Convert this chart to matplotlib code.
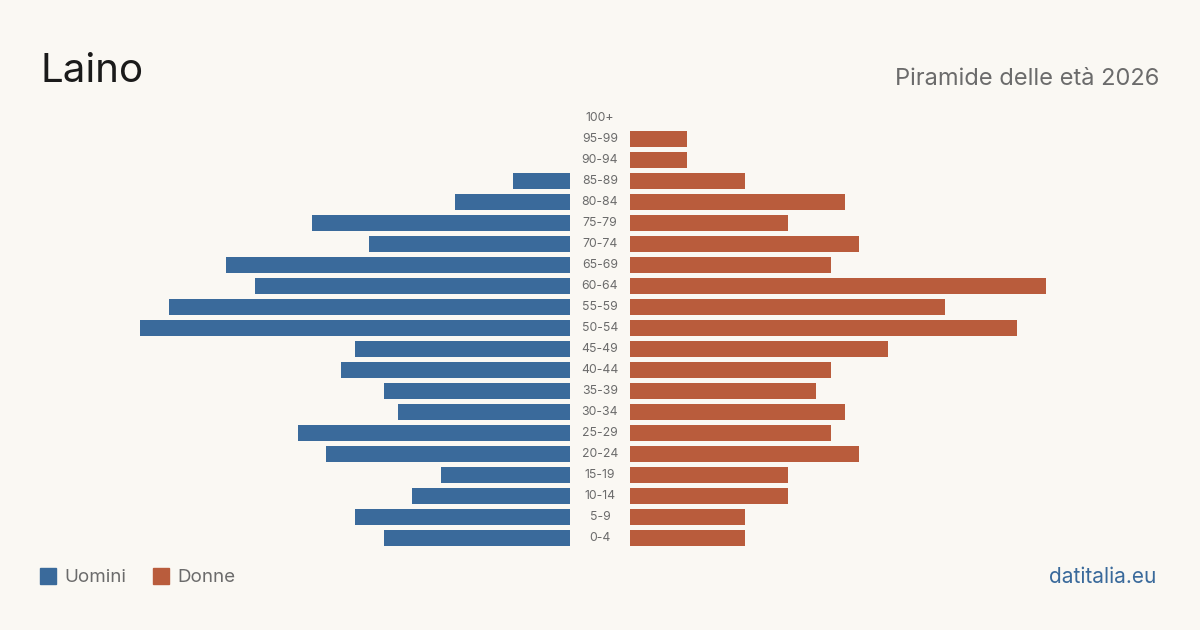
import numpy as np
import matplotlib.pyplot as plt
from matplotlib.patches import Rectangle

plt.rcParams['font.family'] = ['Inter', 'DejaVu Sans']

classi = ['100+', '95-99', '90-94', '85-89', '80-84', '75-79', '70-74', '65-69',
          '60-64', '55-59', '50-54', '45-49', '40-44', '35-39', '30-34', '25-29',
          '20-24', '15-19', '10-14', '5-9', '0-4']
uomini = [0, 0, 0, 4, 8, 18, 14, 24, 22, 28, 30, 15, 16, 13, 12, 19, 17, 9, 11, 15, 13]
donne = [0, 4, 4, 8, 15, 11, 16, 14, 29, 22, 27, 18, 14, 13, 15, 14, 16, 11, 11, 8, 8]

BG = '#faf8f3'
BLU = '#3a6a9b'
ROSSO = '#b95c3c'
GRIGIO = '#6b6b6b'

fig = plt.figure(figsize=(12, 6.3), dpi=100, facecolor=BG)

vmax = max(max(uomini), max(donne))
y = np.arange(len(classi))

ax_m = fig.add_axes([140 / 1200, 0.1295, 430 / 1200, 0.7])
ax_f = fig.add_axes([630 / 1200, 0.1295, 430 / 1200, 0.7])

ax_m.barh(y, uomini, height=0.8, color=BLU)
ax_m.set_xlim(vmax, 0)
ax_f.barh(y, donne, height=0.8, color=ROSSO)
ax_f.set_xlim(0, vmax)

for ax in (ax_m, ax_f):
    ax.set_ylim(len(classi) - 0.5, -0.5)
    ax.axis('off')

# etichette delle classi al centro
for i, c in enumerate(classi):
    ax_f.text(-30 / 430 * vmax, i, c, ha='center', va='center',
              fontsize=8.8, color=GRIGIO)

fig.text(40 / 1200, 1 - 82 / 630, 'Laino', fontsize=29, color='#1a1a1a',
         ha='left', va='baseline')
fig.text(1159 / 1200, 1 - 85 / 630, 'Piramide delle età 2026', fontsize=17,
         color=GRIGIO, ha='right', va='baseline')

# legenda
for x0, col, lab in [(40, BLU, 'Uomini'), (153, ROSSO, 'Donne')]:
    fig.patches.append(Rectangle((x0 / 1200, 1 - 584 / 630), 16 / 1200, 16 / 630,
                                 transform=fig.transFigure, color=col))
    fig.text((x0 + 24) / 1200, 1 - 577 / 630, lab, fontsize=13.5, color=GRIGIO,
             ha='left', va='center')

fig.text(1156 / 1200, 1 - 577 / 630, 'datitalia.eu', fontsize=15, color=BLU,
         ha='right', va='center')

fig.savefig('out.png', dpi=100, facecolor=BG)
